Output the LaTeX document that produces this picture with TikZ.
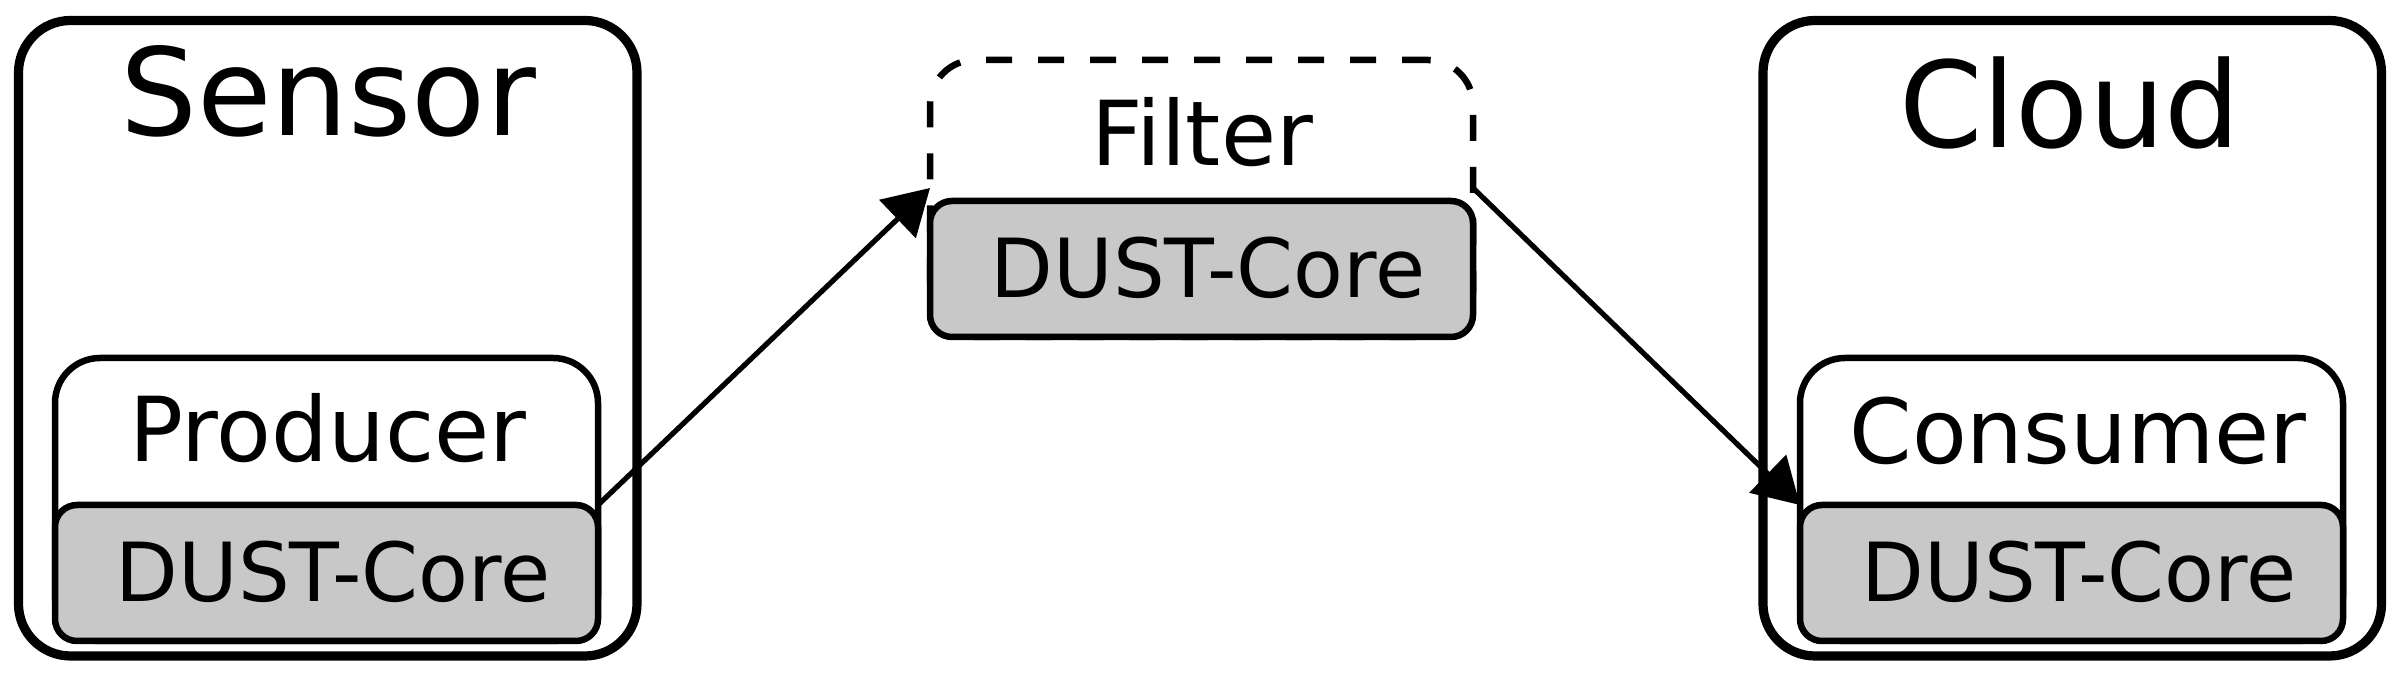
\documentclass[tikz,border=0pt]{standalone}
\usepackage{fontspec}
\setmainfont{DejaVu Sans}
\usetikzlibrary{arrows.meta}
\definecolor{coregrey}{RGB}{200,200,200}
\begin{document}
\begin{tikzpicture}[x=0.1mm,y=-0.1mm,
  outerbox/.style={draw, line width=0.92mm, rounded corners=5.2mm, inner sep=0pt, outer sep=0pt, minimum width=61.85mm, minimum height=63.55mm},
  compbox/.style={draw, line width=0.65mm, rounded corners=4.5mm, fill=white, inner sep=0pt, outer sep=0pt, minimum width=54.3mm},
  dashbox/.style={compbox, dash pattern=on 2.6mm off 2.6mm},
  corebox/.style={draw, line width=0.65mm, rounded corners=2.2mm, fill=coregrey, inner sep=0pt, outer sep=0pt, minimum width=54.3mm, minimum height=13.6mm},
  titletext/.style={anchor=base, font=\fontsize{34.5}{40}\selectfont, inner sep=0pt},
  labeltext/.style={anchor=base, font=\fontsize{25.5}{30}\selectfont, inner sep=0pt},
  coretext/.style={anchor=base, font=\fontsize{23.2}{28}\selectfont, inner sep=0pt},
  flow/.style={line width=0.52mm, -{Triangle[length=4.5mm,width=5.2mm]}}
]
\useasboundingbox (0,0) rectangle (2398,676);
% containers
\node[outerbox] (sensor) at (327.75,338.25) {};
\node[outerbox] (cloud) at (2072.25,338.25) {};
% components
\node[compbox, minimum height=28.3mm] (producer) at (326.5,499.5) {};
\node[corebox] (pcore) at (326.5,573) {};
\node[dashbox, minimum height=27.7mm] (filter) at (1201.5,198.5) {};
\node[corebox] (fcore) at (1201.5,269) {};
\node[compbox, minimum height=28.3mm] (consumer) at (2071.5,499.5) {};
\node[corebox] (ccore) at (2071.5,573) {};
% texts
\node[titletext] (sensorlbl) at (328,136) {Sensor};
\node[titletext, font=\fontsize{34}{40}\selectfont] (cloudlbl) at (2070,148) {Cloud};
\node[labeltext] (producerlbl) at (328,462) {Producer};
\node[labeltext] (filterlbl) at (1202,166) {Filter};
\node[labeltext] (consumerlbl) at (2078,464) {Consumer};
\node[coretext] (pcorelbl) at (333,602) {DUST-Core};
\node[coretext] (fcorelbl) at (1208,298) {DUST-Core};
\node[coretext] (ccorelbl) at (2079,602) {DUST-Core};
% connectors
\coordinate (lvl) at (0,188);
\coordinate (a1end) at (filter.west |- lvl);
\coordinate (a2start) at (filter.east |- lvl);
\draw[flow] (pcore.north east) -- (a1end);
\draw[flow] (a2start) -- (ccore.north west);
\end{tikzpicture}
\end{document}
